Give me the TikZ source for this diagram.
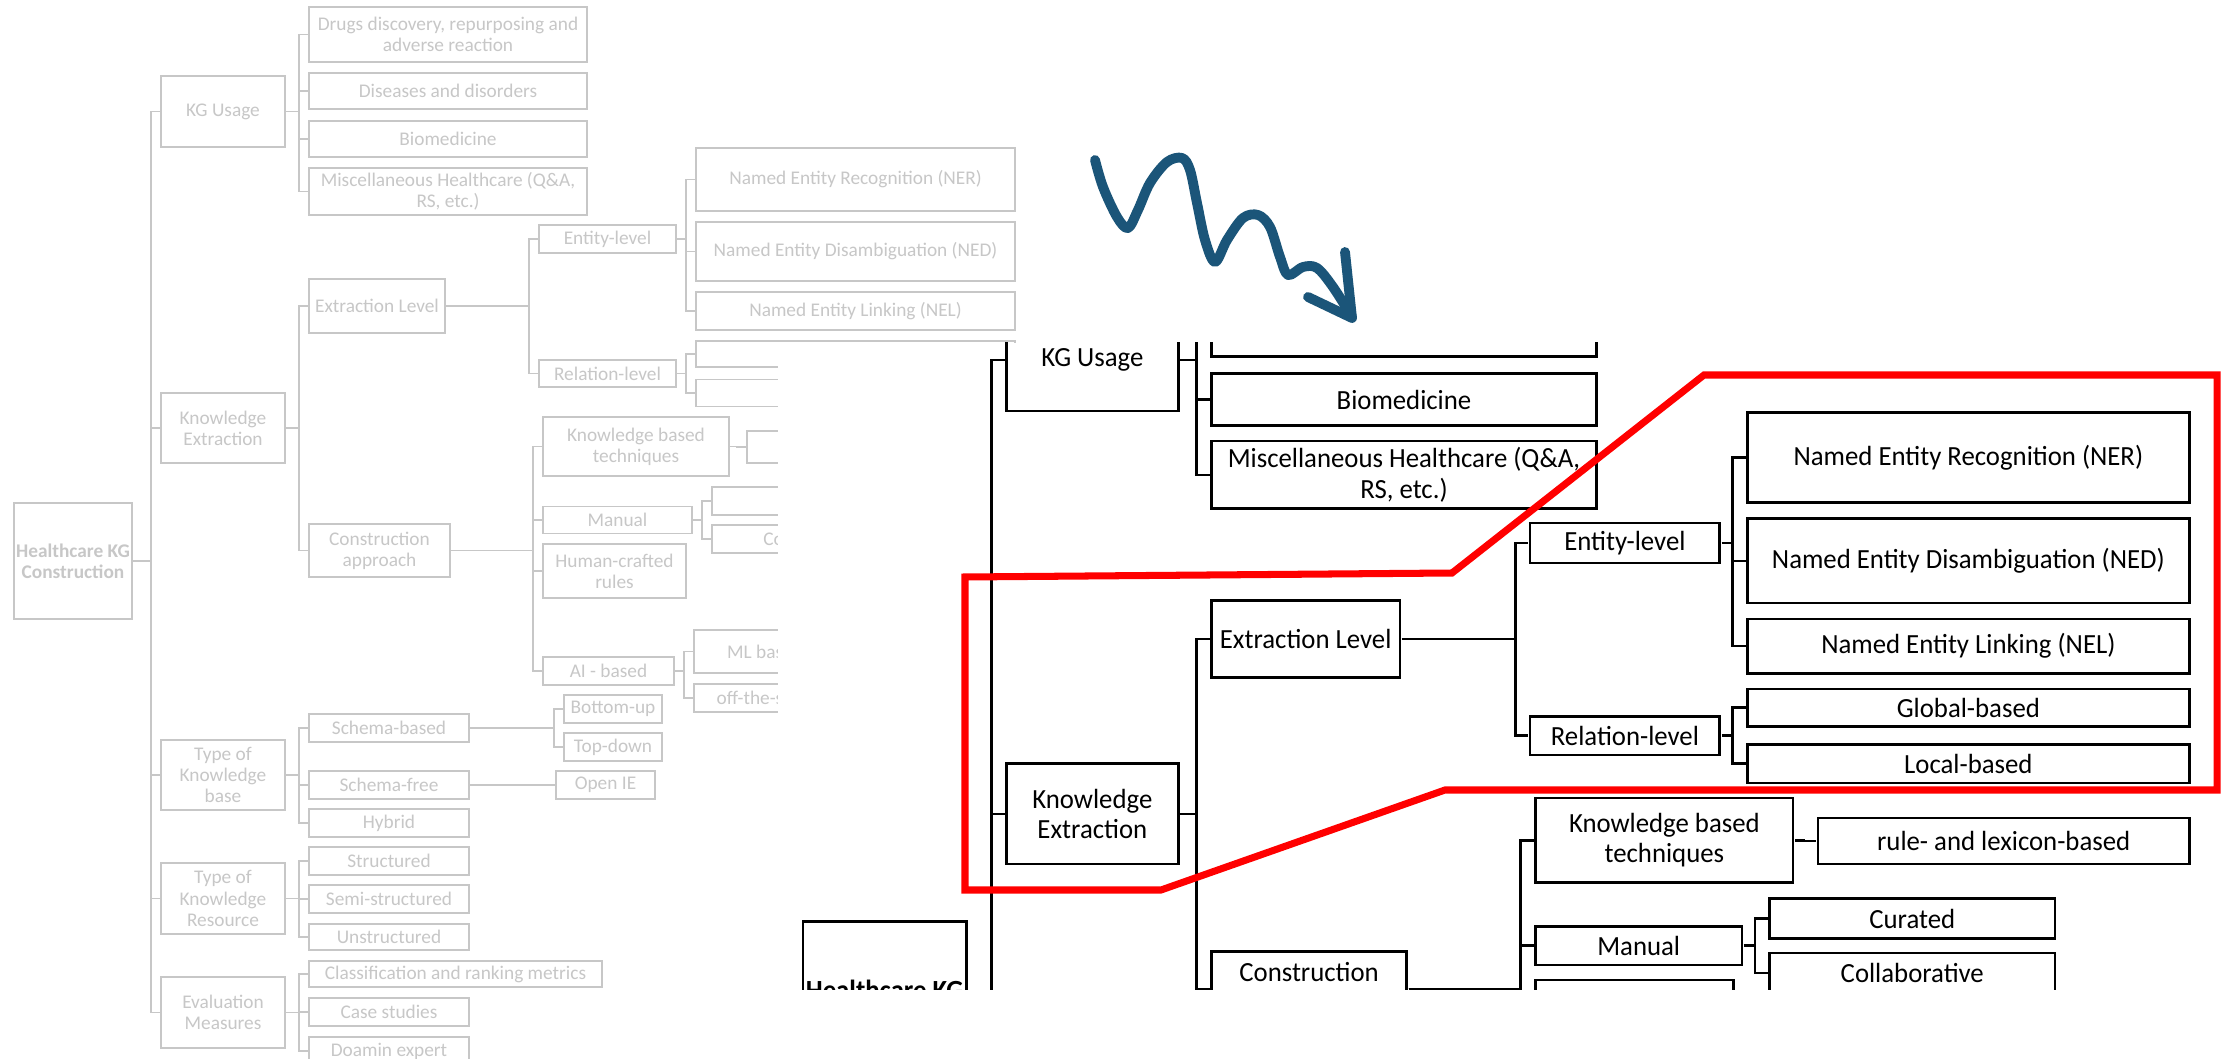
\documentclass[tikz,border=0pt]{standalone}
\usepackage{fontspec}
\setmainfont{Carlito}

\definecolor{arrowblue}{HTML}{1B5579}
\newcommand{\kgfont}{\fontsize{5.5}{6}\selectfont}
\newcommand{\kgconn}[2]{\draw (#1.east) -| ([xshift=-0.95mm]#2.west) -- (#2.west);}

% the whole tree, drawn once faded and once magnified
\newcommand{\hctree}{%
\node[kgbox, minimum width=11.8mm, minimum height=11.6mm, font=\kgfont\bfseries] (root) at (73,561) {Healthcare KG\\Construction};
\node[kgbox, minimum width=12.4mm, minimum height=7.1mm] (ku) at (223,111.5) {KG Usage};
\node[kgbox, minimum width=12.4mm, minimum height=7mm] (ke) at (223,428) {Knowledge\\Extraction};
\node[kgbox, minimum width=12.4mm, minimum height=7mm] (tkb) at (223,775) {Type of\\Knowledge\\base};
\node[kgbox, minimum width=12.4mm, minimum height=7.1mm] (tkr) at (223,898.5) {Type of\\Knowledge\\Resource};
\node[kgbox, minimum width=12.4mm, minimum height=7.1mm] (em) at (223,1012.5) {Evaluation\\Measures};
\node[kgbox, minimum width=27.8mm, minimum height=5.5mm] (drug) at (448,34.5) {Drugs discovery, repurposing and\\adverse reaction};
\node[kgbox, minimum width=27.8mm, minimum height=3.6mm] (dis) at (448,91) {Diseases and disorders};
\node[kgbox, minimum width=27.8mm, minimum height=3.6mm] (bio) at (448,139) {Biomedicine};
\node[kgbox, minimum width=27.8mm, minimum height=4.7mm] (misc) at (448,191.5) {Miscellaneous Healthcare (Q\&A,\\RS, etc.)};
\node[kgbox, minimum width=13.6mm, minimum height=5.4mm] (xl) at (377,306) {Extraction Level};
\node[kgbox, minimum width=14.1mm, minimum height=5.3mm] (ca) at (379.5,550.5) {Construction\\approach};
\node[kgbox, minimum width=13.7mm, minimum height=2.8mm] (el) at (607.5,239) {Entity-level};
\node[kgbox, minimum width=13.7mm, minimum height=2.7mm] (rl) at (607.5,373.5) {Relation-level};
\node[kgbox, minimum width=31.9mm, minimum height=6.3mm] (ner) at (855.5,179.5) {Named Entity Recognition (NER)};
\node[kgbox, minimum width=31.9mm, minimum height=5.9mm] (ned) at (855.5,251.5) {Named Entity Disambiguation (NED)};
\node[kgbox, minimum width=31.9mm, minimum height=3.8mm] (nel) at (855.5,311) {Named Entity Linking (NEL)};
\node[kgbox, minimum width=31.9mm, minimum height=2.6mm] (glob) at (855.5,354) {Global-based};
\node[kgbox, minimum width=31.9mm, minimum height=2.7mm] (loc) at (855.5,393) {Local-based};
\node[kgbox, minimum width=18.6mm, minimum height=5.9mm] (kbt) at (636,446.5) {Knowledge based\\techniques};
\node[kgbox, minimum width=14.9mm, minimum height=2.7mm] (man) at (617.5,520) {Manual};
\node[kgbox, minimum width=14.3mm, minimum height=5.4mm] (hcr) at (614.5,571) {Human-crafted\\rules};
\node[kgbox, minimum width=13.1mm, minimum height=2.8mm] (ai) at (608.5,671) {AI - based};
\node[kgbox, minimum width=26.8mm, minimum height=3.2mm] (rule) at (881,447) {rule- and lexicon-based};
\node[kgbox, minimum width=20.6mm, minimum height=2.8mm] (cur) at (815,501) {Curated};
\node[kgbox, minimum width=20.6mm, minimum height=2.8mm] (col) at (815,539) {Collaborative};
\node[kgbox, minimum width=14.2mm, minimum height=4.3mm] (ml) at (765,651.5) {ML based};
\node[kgbox, minimum width=14.2mm, minimum height=2.8mm] (ots) at (765,698) {off-the-shelf};
\node[kgbox, minimum width=16mm, minimum height=2.8mm] (sb) at (389,728) {Schema-based};
\node[kgbox, minimum width=16mm, minimum height=2.8mm] (sf) at (389,785) {Schema-free};
\node[kgbox, minimum width=16mm, minimum height=2.8mm] (hyb) at (389,823) {Hybrid};
\node[kgbox, minimum width=9.8mm, minimum height=2.8mm] (bu) at (613,709) {Bottom-up};
\node[kgbox, minimum width=9.8mm, minimum height=2.8mm] (td) at (613,747) {Top-down};
\node[kgbox, minimum width=9.9mm, minimum height=2.8mm] (oie) at (605.5,785) {Open IE};
\node[kgbox, minimum width=16mm, minimum height=2.8mm] (str) at (389,861) {Structured};
\node[kgbox, minimum width=16mm, minimum height=2.8mm] (semi) at (389,899) {Semi-structured};
\node[kgbox, minimum width=16mm, minimum height=2.6mm] (uns) at (389,937) {Unstructured};
\node[kgbox, minimum width=29.3mm, minimum height=2.6mm] (cls) at (455.5,974) {Classification and ranking metrics};
\node[kgbox, minimum width=16mm, minimum height=2.8mm] (cs) at (389,1012) {Case studies};
\node[kgbox, minimum width=16mm, minimum height=2.8mm] (de) at (389,1051) {Doamin expert};
\kgconn{root}{ku} \kgconn{root}{ke} \kgconn{root}{tkb} \kgconn{root}{tkr} \kgconn{root}{em}
\kgconn{ku}{drug} \kgconn{ku}{dis} \kgconn{ku}{bio} \kgconn{ku}{misc}
\kgconn{ke}{xl} \kgconn{ke}{ca}
\kgconn{xl}{el} \kgconn{xl}{rl}
\kgconn{el}{ner} \kgconn{el}{ned} \kgconn{el}{nel}
\kgconn{rl}{glob} \kgconn{rl}{loc}
\kgconn{ca}{kbt} \kgconn{ca}{man} \kgconn{ca}{hcr} \kgconn{ca}{ai}
\kgconn{kbt}{rule}
\kgconn{man}{cur} \kgconn{man}{col}
\kgconn{ai}{ml} \kgconn{ai}{ots}
\kgconn{tkb}{sb} \kgconn{tkb}{sf} \kgconn{tkb}{hyb}
\kgconn{sb}{bu} \kgconn{sb}{td}
\kgconn{sf}{oie}
\kgconn{tkr}{str} \kgconn{tkr}{semi} \kgconn{tkr}{uns}
\kgconn{em}{cls} \kgconn{em}{cs} \kgconn{em}{de}
}

\begin{document}
\begin{tikzpicture}[x=0.1mm,y=-0.1mm,
  kgbox/.style={draw, inner sep=0pt, align=center, font=\kgfont},
  hilite/.style={red, line width=2pt, line join=miter},
  squig/.style={arrowblue, line width=2.8pt, line cap=round, line join=round}]
\path[use as bounding box, fill=white] (0,0) rectangle (2226,1059);

% faded overview
\begin{scope}[name prefix=g-, color=black!22, line width=0.5pt]
\hctree
\end{scope}

% magnified inset
\fill[white] (778,343) rectangle (2226,989);
\begin{scope}
\clip (778,343) rectangle (2226,989);
\begin{scope}[name prefix=b-, color=black, line width=0.75pt,
  shift={(783.5,200.3)}, xscale=1.385, yscale=1.4335, transform shape]
\hctree
\end{scope}
\end{scope}

\draw[hilite] (965,577) -- (1452,573) -- (1704,375) -- (2217,375) -- (2217,790)
  -- (1445,790) -- (1161,890) -- (965,890) -- cycle;

\draw[squig] plot[smooth, tension=0.55] coordinates {(1095,160) (1103,187) (1117,217)
  (1128,228) (1138,210) (1150,183) (1167,162) (1182,158) (1190,170) (1197,203)
  (1205,240) (1215,262) (1227,240) (1243,218) (1258,215) (1270,227) (1280,257)
  (1288,275) (1303,267) (1317,268) (1333,287) (1352,317)};
\draw[squig] (1345,252) -- (1352,318) -- (1308,297);
\end{tikzpicture}
\end{document}
